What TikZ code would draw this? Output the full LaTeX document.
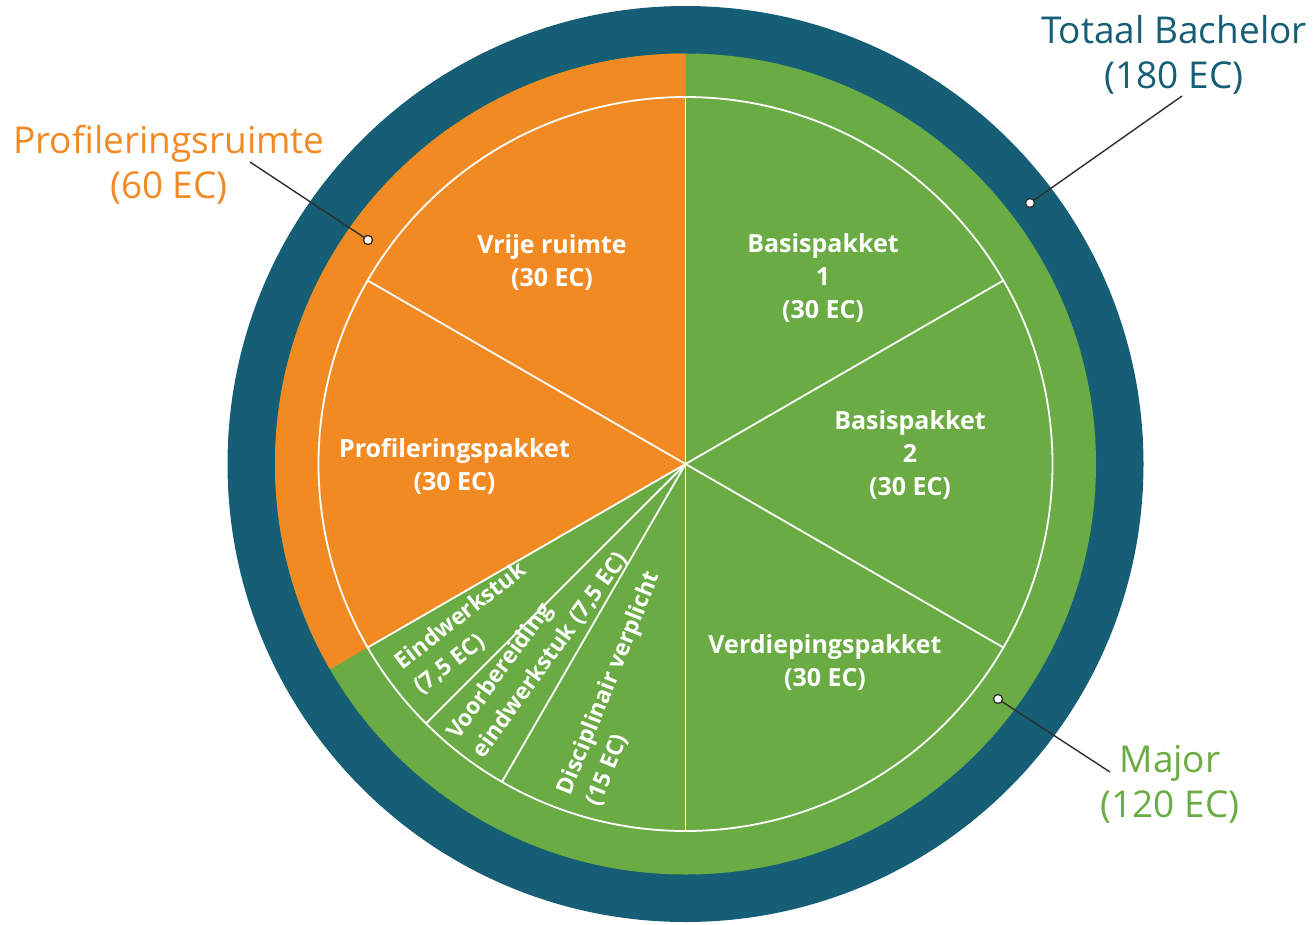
\documentclass[tikz,border=0pt]{standalone}
\usepackage{fontspec}
\setmainfont{Open Sans}
\definecolor{ringblue}{HTML}{155E75}
\definecolor{orangefill}{HTML}{F28A24}
\definecolor{greenfill}{HTML}{6AAB44}
\definecolor{leadgray}{HTML}{2E2E2E}
\begin{document}
\begin{tikzpicture}[x=1pt,y=1pt,
  whiteline/.style={draw=white,line width=1.8pt},
  leader/.style={draw=leadgray,line width=1.4pt},
  dotmark/.style={circle,fill=white,draw=leadgray,line width=1.3pt,inner sep=0pt,minimum size=9pt},
  biglabel/.style={align=center,anchor=base,font=\fontsize{37}{45}\selectfont},
  seglabel/.style={align=center,anchor=base,text=white,font=\fontsize{25}{33}\selectfont\bfseries},
  rotlabel/.style={align=left,anchor=base west,text=white,font=\fontsize{23}{31}\selectfont\bfseries}]
\useasboundingbox (0,0) rectangle (1314,-924);
\coordinate (C) at (685.5,-464);
% rings and discs
\fill[ringblue] (C) circle[radius=458];
\fill[greenfill] (C) circle[radius=410.5];
\fill[orangefill] (C) -- ++(90:410.5) arc[start angle=90,end angle=210,radius=410.5] -- cycle;
\draw[whiteline] (C) circle[radius=367];
\foreach \a in {90,150,210,225,240,270,330,30}
  \draw[whiteline] (C) -- ++(\a:367);
% segment labels (anchor = baseline of last line)
\node[seglabel] (vrije) at (552,-286) {Vrije ruimte\\(30 EC)};
\node[seglabel] (basis1) at (823,-318) {Basispakket\\1\\(30 EC)};
\node[seglabel] (basis2) at (910,-495) {Basispakket\\2\\(30 EC)};
\node[seglabel] (profpak) at (454.5,-490) {Profileringspakket\\(30 EC)};
\node[seglabel] (verdiep) at (825,-686) {Verdiepingspakket\\(30 EC)};
\node[rotlabel,rotate=38] (eind) at (419,-697) {Eindwerkstuk\\(7,5 EC)};
\node[rotlabel,rotate=54] (voorb) at (481,-762) {Voorbereiding\\eindwerkstuk (7,5 EC)};
\node[rotlabel,rotate=68] (discip) at (598,-811) {Disciplinair verplicht\\(15 EC)};
% outer labels
\node[biglabel,text=orangefill] (lprof) at (169,-198) {Profileringsruimte\\(60 EC)};
\node[biglabel,text=ringblue] (ltot) at (1174,-88) {Totaal Bachelor\\(180 EC)};
\node[biglabel,text=greenfill] (lmaj) at (1170,-817) {Major\\(120 EC)};
% leaders
\coordinate (eprof) at (250,-162);
\coordinate (etot) at (1182,-96);
\coordinate (emaj) at (1110,-772);
\coordinate (dprof) at (368,-240);
\coordinate (dtot) at (1030,-203);
\coordinate (dmaj) at (998,-699);
\draw[leader] (eprof) -- (dprof);
\draw[leader] (etot) -- (dtot);
\draw[leader] (emaj) -- (dmaj);
\node[dotmark] (mprof) at (dprof) {};
\node[dotmark] (mtot) at (dtot) {};
\node[dotmark] (mmaj) at (dmaj) {};
\end{tikzpicture}
\end{document}
